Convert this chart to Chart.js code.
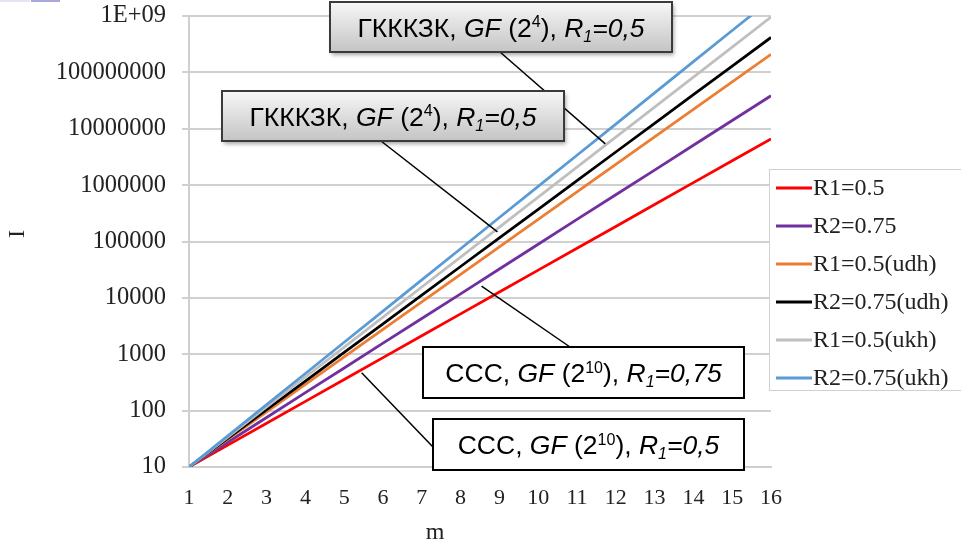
<!DOCTYPE html>
<html>
<head>
<meta charset="utf-8">
<script src="https://cdn.jsdelivr.net/npm/chart.js@4/dist/chart.umd.min.js"></script>
<style>
  html, body { margin: 0; padding: 0; background: #fff; }
  #wrap { width: 961px; height: 548px; position: relative; }
</style>
</head>
<body>
<div id="wrap"><canvas id="chart"></canvas></div>
<script>
// Data
const mValues = [1, 2, 3, 4, 5, 6, 7, 8, 9, 10, 11, 12, 13, 14, 15, 16];

const r1 = [10, 24.4, 59.7, 146, 357, 871, 2130, 5200, 12700, 31000, 75900, 185000, 453000, 1107000, 2704000, 6610000];
const r2 = [10, 27.5, 75.5, 208, 570, 1570, 4310, 11800, 32500, 89300, 246000, 675000, 1850000, 5090000, 14000000, 38500000];
const r1udh = [10, 30.8, 94.6, 291, 895, 2750, 8470, 26100, 80200, 247000, 759000, 2330000, 7180000, 22100000, 67900000, 209000000];
const r2udh = [10, 32.2, 104, 334, 1080, 3470, 11200, 36000, 116000, 373000, 1200000, 3870000, 12500000, 40200000, 129000000, 417000000];
const r1ukh = [10, 34.0, 116, 395, 1340, 4570, 15600, 53000, 180000, 614000, 2090000, 7110000, 24200000, 82400000, 281000000, 955000000];
const r2ukh = [10, 35.7, 128, 456, 1630, 5820, 20800, 74300, 266000, 948000, 3390000, 12100000, 43300000, 155000000, 552000000, 1970000000];

const seriesNames = ['R1=0.5', 'R2=0.75', 'R1=0.5(udh)', 'R2=0.75(udh)', 'R1=0.5(ukh)', 'R2=0.75(ukh)'];
const seriesColors = ['#ff0000', '#7030a0', '#ed7d31', '#000000', '#bfbfbf', '#5b9bd5'];
const seriesData = [r1, r2, r1udh, r2udh, r1ukh, r2ukh];

const yTickValues = [10, 100, 1000, 10000, 100000, 1000000, 10000000, 100000000, 1000000000];
const yTickLabels = ['10', '100', '1000', '10000', '100000', '1000000', '10000000', '100000000', '1E+09'];

// Callouts: text parts, box, and the data point the leader line points at
const callouts = [
  { parts: [{t: 'ГКККЗК, '}, {t: 'GF', i: true}, {t: ' (2'}, {t: '4', sup: true}, {t: '), '}, {t: 'R', i: true}, {t: '1', i: true, sub: true}, {t: '=0,5', i: true}],
    box: [330, 2, 342, 50], shaded: true, from: [500, 52], to: {m: 11.73, v: 5.4e6} },
  { parts: [{t: 'ГКККЗК, '}, {t: 'GF', i: true}, {t: ' (2'}, {t: '4', sup: true}, {t: '), '}, {t: 'R', i: true}, {t: '1', i: true, sub: true}, {t: '=0,5', i: true}],
    box: [222, 91, 342, 50], shaded: true, from: [381, 141], to: {m: 8.95, v: 1.48e5} },
  { parts: [{t: 'CCC, '}, {t: 'GF', i: true}, {t: ' (2'}, {t: '10', sup: true}, {t: '), '}, {t: 'R', i: true}, {t: '1', i: true, sub: true}, {t: '=0,75', i: true}],
    box: [423, 347, 321, 51], shaded: false, from: [570, 347], to: {m: 8.54, v: 16200} },
  { parts: [{t: 'CCC, '}, {t: 'GF', i: true}, {t: ' (2'}, {t: '10', sup: true}, {t: '), '}, {t: 'R', i: true}, {t: '1', i: true, sub: true}, {t: '=0,5', i: true}],
    box: [433, 419, 311, 51], shaded: false, from: [433, 447], to: {m: 5.45, v: 468} }
];

const SERIF = '"Liberation Serif", "Times New Roman", serif';
const SANS = '"Liberation Sans", Arial, sans-serif';

function partFont(p, size) {
  const s = (p.sup || p.sub) ? Math.round(size * 0.62) : size;
  return (p.i ? 'italic ' : '') + s + 'px ' + SANS;
}

function drawRich(ctx, parts, cx, cy, size) {
  let w = 0;
  parts.forEach(p => { ctx.font = partFont(p, size); w += ctx.measureText(p.t).width; });
  let x = cx - w / 2;
  ctx.textBaseline = 'alphabetic';
  ctx.textAlign = 'left';
  const base = cy + size * 0.36;
  parts.forEach(p => {
    ctx.font = partFont(p, size);
    let y = base;
    if (p.sup) y = base - size * 0.36;
    if (p.sub) y = base + size * 0.2;
    ctx.fillText(p.t, x, y);
    x += ctx.measureText(p.t).width;
  });
}

const overlay = {
  id: 'overlay',
  afterDraw(chart) {
    const ctx = chart.ctx;
    const xs = chart.scales.x, ys = chart.scales.y;
    ctx.save();

    // leader lines
    ctx.strokeStyle = '#000';
    ctx.lineWidth = 1.5;
    callouts.forEach(c => {
      ctx.beginPath();
      ctx.moveTo(c.from[0], c.from[1]);
      ctx.lineTo(xs.getPixelForValue(c.to.m), ys.getPixelForValue(c.to.v));
      ctx.stroke();
    });

    // callout boxes
    callouts.forEach(c => {
      const [bx, by, bw, bh] = c.box;
      ctx.save();
      if (c.shaded) {
        ctx.shadowColor = 'rgba(0,0,0,0.35)';
        ctx.shadowOffsetX = 2;
        ctx.shadowOffsetY = 3;
        ctx.shadowBlur = 4;
        const g = ctx.createLinearGradient(0, by, 0, by + bh);
        g.addColorStop(0, '#f7f7f7');
        g.addColorStop(1, '#c4c4c4');
        ctx.fillStyle = g;
      } else {
        ctx.fillStyle = '#fff';
      }
      ctx.fillRect(bx, by, bw, bh);
      ctx.restore();
      ctx.strokeStyle = c.shaded ? '#3a3a3a' : '#000';
      ctx.lineWidth = 2;
      ctx.strokeRect(bx, by, bw, bh);
      ctx.fillStyle = '#000';
      drawRich(ctx, c.parts, bx + bw / 2, by + bh / 2, 26.5);
    });

    // legend
    ctx.fillStyle = '#fff';
    ctx.fillRect(769, 169, 200, 221);
    ctx.strokeStyle = '#d0d0d0';
    ctx.lineWidth = 1;
    ctx.strokeRect(769.5, 169.5, 200, 221);
    chart.data.datasets.forEach((ds, i) => {
      const y = 188 + i * 38;
      ctx.strokeStyle = ds.borderColor;
      ctx.lineWidth = 3;
      ctx.beginPath();
      ctx.moveTo(776, y);
      ctx.lineTo(812, y);
      ctx.stroke();
      ctx.fillStyle = '#222';
      ctx.font = '24px ' + SERIF;
      ctx.textAlign = 'left';
      ctx.textBaseline = 'middle';
      ctx.fillText(ds.label, 813, y + 1);
    });

    // axis titles
    ctx.fillStyle = '#222';
    ctx.font = '24px ' + SERIF;
    ctx.textAlign = 'center';
    ctx.textBaseline = 'middle';
    ctx.fillText('m', 435, 533);
    ctx.save();
    ctx.translate(18, 234);
    ctx.rotate(-Math.PI / 2);
    ctx.fillText('I', 0, 0);
    ctx.restore();

    // small marks at the top-left corner
    ctx.fillStyle = '#e4e4f2';
    ctx.fillRect(0, 0, 30, 2);
    ctx.fillStyle = '#a8a8dc';
    ctx.fillRect(31, 0, 29, 2);

    ctx.restore();
  }
};

const ctx = document.getElementById('chart').getContext('2d');

new Chart(ctx, {
  type: 'line',
  data: {
    labels: mValues,
    datasets: seriesData.map((d, i) => ({
      label: seriesNames[i],
      data: d,
      borderColor: seriesColors[i],
      backgroundColor: seriesColors[i],
      borderWidth: 2.75,
      pointRadius: 0,
      tension: 0,
      fill: false,
      order: 6 - i
    }))
  },
  options: {
    responsive: true,
    maintainAspectRatio: false,
    animation: false,
    layout: { padding: { left: 0, right: 190, top: 16, bottom: 0 } },
    plugins: {
      legend: { display: false },
      tooltip: { enabled: false }
    },
    scales: {
      x: {
        type: 'linear',
        min: 1,
        max: 16,
        afterFit: s => { s.height = 81; },
        grid: { display: false },
        border: { display: true, color: '#cfcfcf', width: 2 },
        ticks: {
          stepSize: 1,
          padding: 10,
          color: '#222',
          font: { family: SERIF, size: 22 }
        }
      },
      y: {
        type: 'logarithmic',
        min: 10,
        max: 1000000000,
        afterFit: s => { s.width = 189; s.paddingTop = 0; s.paddingBottom = 0; },
        afterBuildTicks: s => { s.ticks = yTickValues.map(v => ({ value: v })); },
        grid: { color: '#d0d0d0', lineWidth: 2, tickLength: 7 },
        border: { display: true, color: '#cfcfcf', width: 2 },
        ticks: {
          padding: 16,
          color: '#222',
          font: { family: SERIF, size: 24.5 },
          callback: (v, i) => yTickLabels[i]
        }
      }
    }
  },
  plugins: [overlay]
});
</script>
</body>
</html>
